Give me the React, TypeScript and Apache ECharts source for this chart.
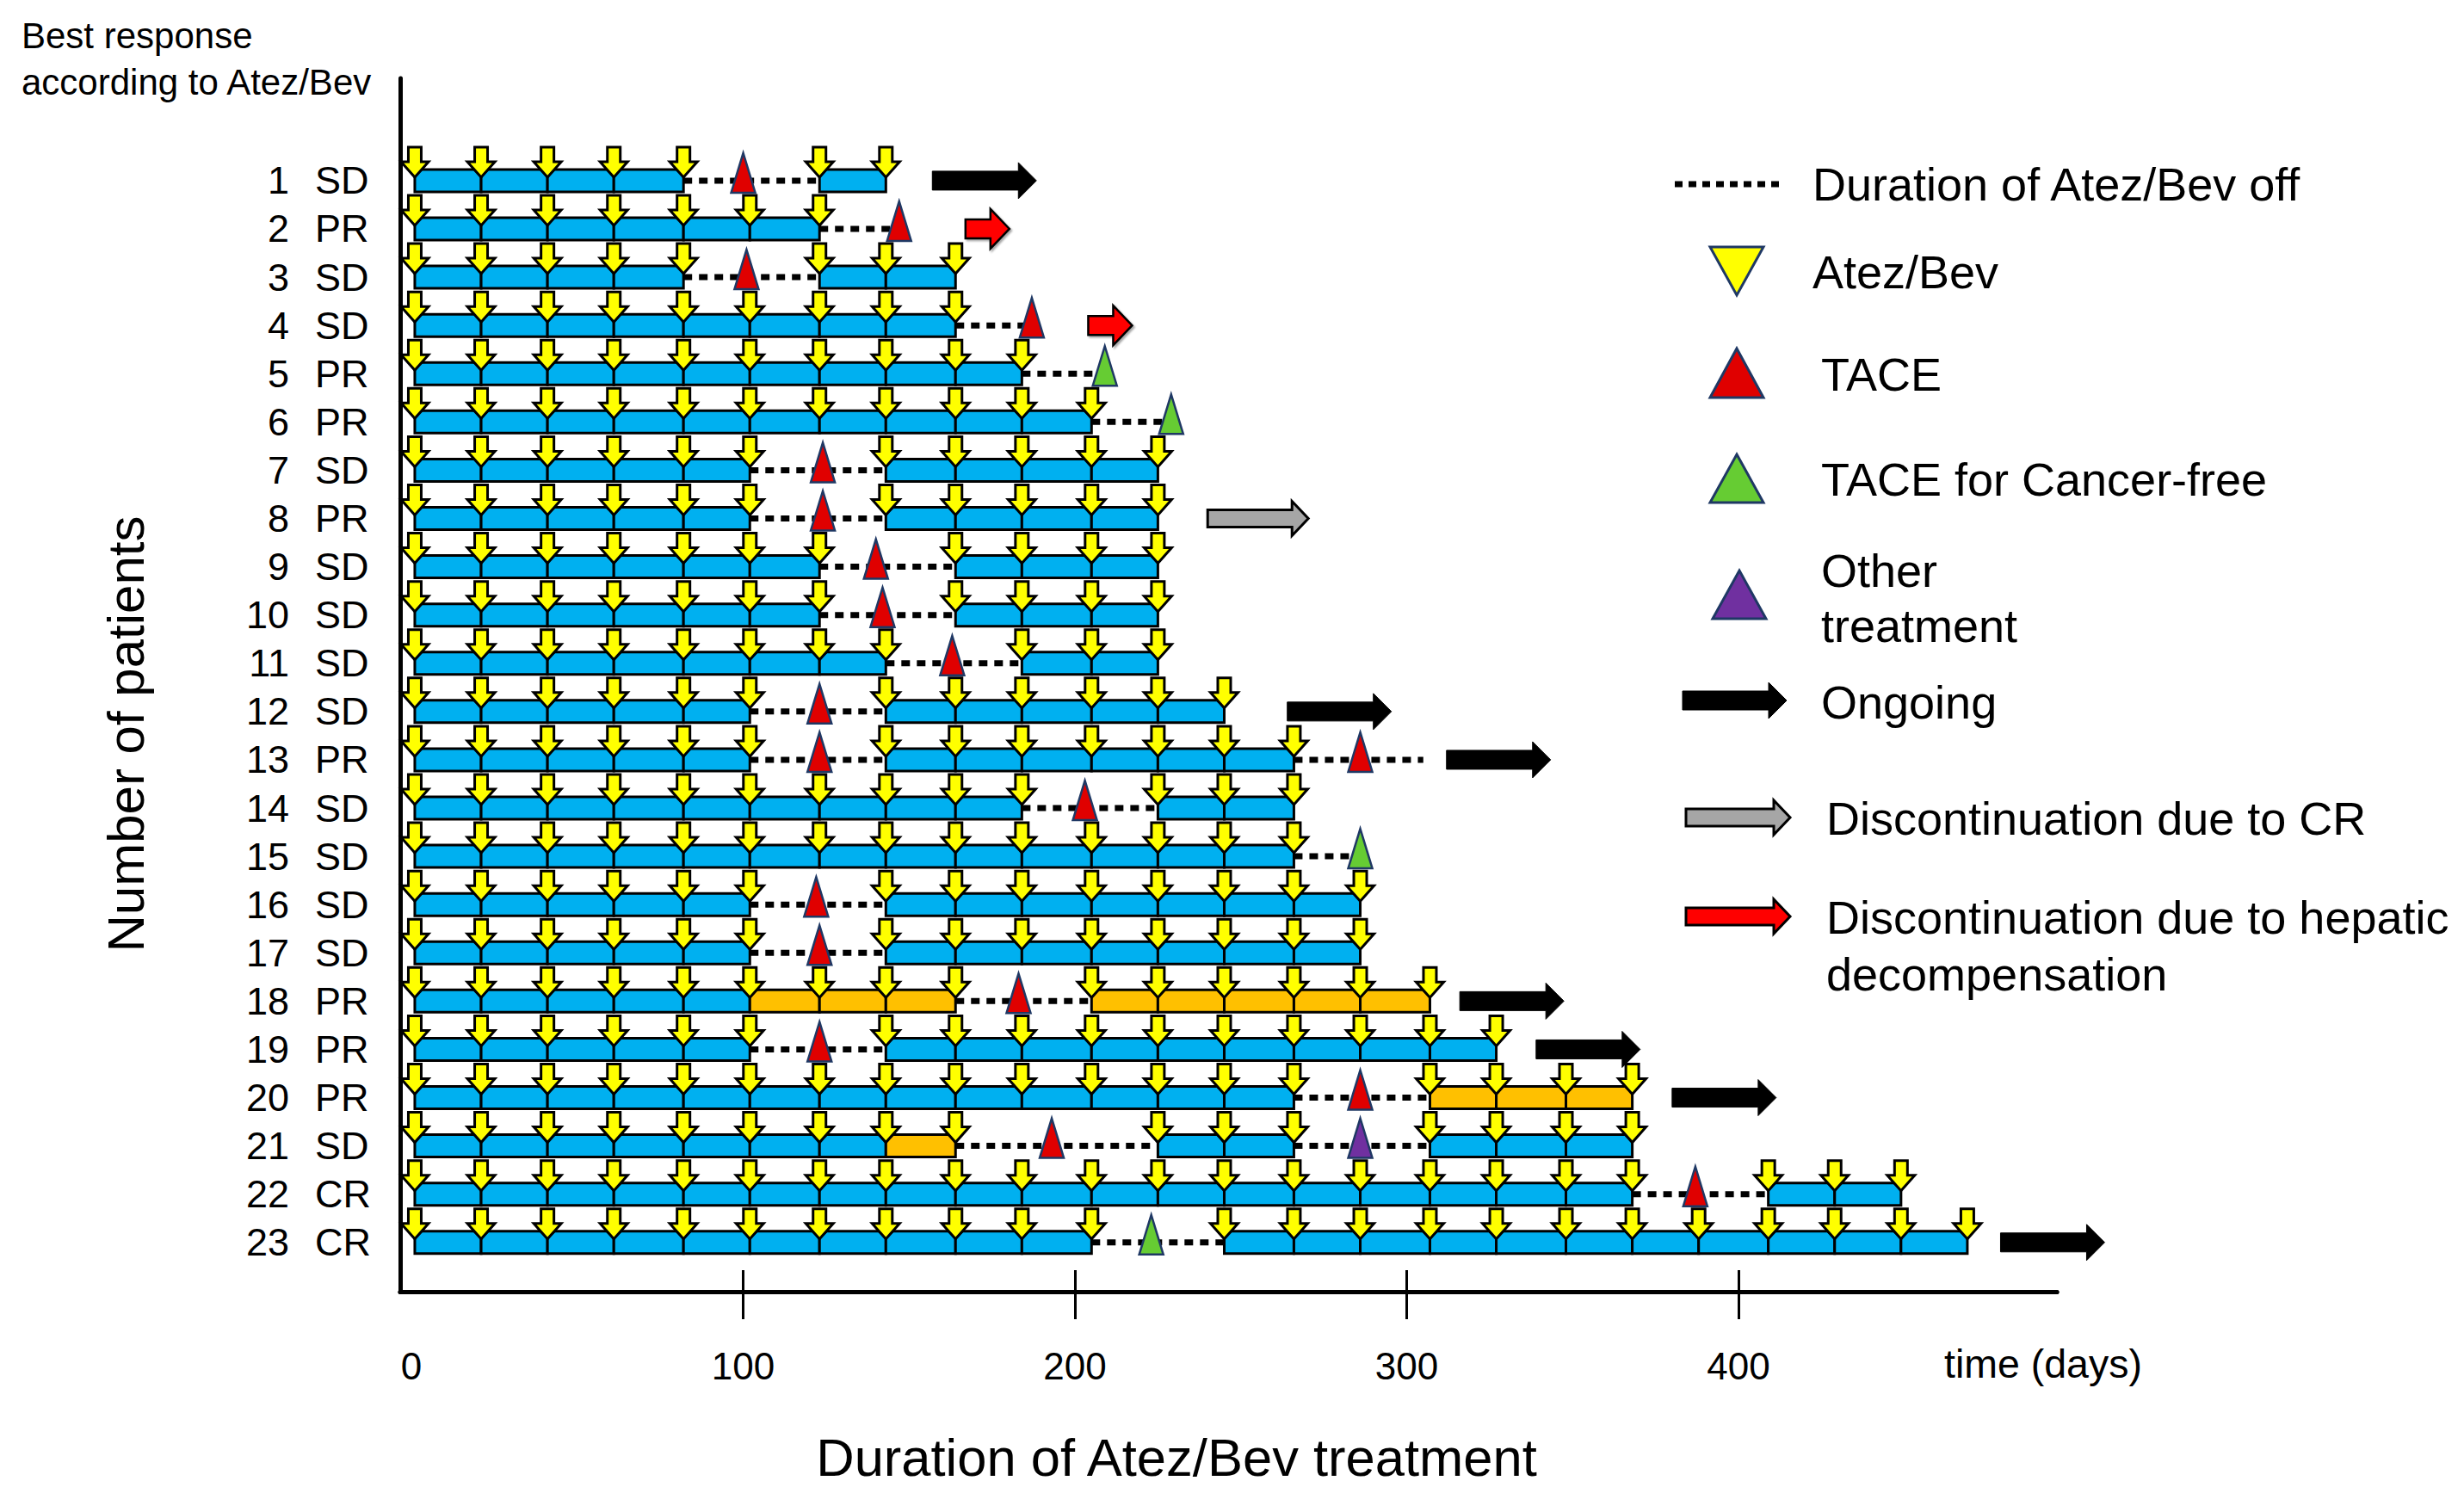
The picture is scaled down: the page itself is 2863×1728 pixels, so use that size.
import React, { useEffect, useRef } from "react";
import * as echarts from "echarts";

// ---------------- DATA ----------------
const patientIds = ["1","2","3","4","5","6","7","8","9","10","11","12","13","14","15","16","17","18","19","20","21","22","23"];
const responses = ["SD","PR","SD","SD","PR","PR","SD","PR","SD","SD","SD","SD","PR","SD","SD","SD","SD","PR","PR","PR","SD","CR","CR"];

// Atez/Bev administration days (yellow arrows)
const doseDays: number[][] = [
  [1,21,41,61,82,123,143],
  [1,21,41,61,82,102,123],
  [1,21,41,61,82,123,143,164],
  [1,21,41,61,82,102,123,143,164],
  [1,21,41,61,82,102,123,143,164,184],
  [1,21,41,61,82,102,123,143,164,184,205],
  [1,21,41,61,82,102,143,164,184,205,225],
  [1,21,41,61,82,102,143,164,184,205,225],
  [1,21,41,61,82,102,123,164,184,205,225],
  [1,21,41,61,82,102,123,164,184,205,225],
  [1,21,41,61,82,102,123,143,184,205,225],
  [1,21,41,61,82,102,143,164,184,205,225,245],
  [1,21,41,61,82,102,143,164,184,205,225,245,266],
  [1,21,41,61,82,102,123,143,164,184,225,245,266],
  [1,21,41,61,82,102,123,143,164,184,205,225,245,266],
  [1,21,41,61,82,102,143,164,184,205,225,245,266,286],
  [1,21,41,61,82,102,143,164,184,205,225,245,266,286],
  [1,21,41,61,82,102,123,143,164,205,225,245,266,286,307],
  [1,21,41,61,82,102,143,164,184,205,225,245,266,286,307,327],
  [1,21,41,61,82,102,123,143,164,184,205,225,245,266,307,327,348,368],
  [1,21,41,61,82,102,123,143,164,225,245,266,307,327,348,368],
  [1,21,41,61,82,102,123,143,164,184,205,225,245,266,286,307,327,348,368,409,429,449],
  [1,21,41,61,82,102,123,143,164,184,205,245,266,286,307,327,348,368,388,409,429,449,469],
];

// on-treatment blocks: [start, end, colour key] (B = blue, O = orange)
const onBlocks: [number, number, string][][] = [
  [[1,82,"B"],[123,143,"B"]],
  [[1,123,"B"]],
  [[1,82,"B"],[123,164,"B"]],
  [[1,164,"B"]],
  [[1,184,"B"]],
  [[1,205,"B"]],
  [[1,102,"B"],[143,225,"B"]],
  [[1,102,"B"],[143,225,"B"]],
  [[1,123,"B"],[164,225,"B"]],
  [[1,123,"B"],[164,225,"B"]],
  [[1,143,"B"],[184,225,"B"]],
  [[1,102,"B"],[143,245,"B"]],
  [[1,102,"B"],[143,266,"B"]],
  [[1,184,"B"],[225,266,"B"]],
  [[1,266,"B"]],
  [[1,102,"B"],[143,286,"B"]],
  [[1,102,"B"],[143,286,"B"]],
  [[1,102,"B"],[102,164,"O"],[205,307,"O"]],
  [[1,102,"B"],[143,327,"B"]],
  [[1,266,"B"],[307,368,"O"]],
  [[1,143,"B"],[143,164,"O"],[225,266,"B"],[307,368,"B"]],
  [[1,368,"B"],[409,449,"B"]],
  [[1,205,"B"],[245,469,"B"]],
];

// Atez/Bev off periods (dotted)
const offPeriods: [number, number][][] = [
  [[82,123]],
  [[123,147]],
  [[82,123]],
  [[164,187]],
  [[184,209]],
  [[205,229]],
  [[102,143]],
  [[102,143]],
  [[123,164]],
  [[123,164]],
  [[143,184]],
  [[102,143]],
  [[102,143],[266,305]],
  [[184,225]],
  [[266,286]],
  [[102,143]],
  [[102,143]],
  [[164,205]],
  [[102,143]],
  [[266,307]],
  [[164,225],[266,307]],
  [[368,409]],
  [[205,245]],
];

// events: TACE, CF (TACE for cancer-free), OTHER
const eventMarks: [number, string][][] = [
  [[100,"TACE"]],
  [[147,"TACE"]],
  [[101,"TACE"]],
  [[187,"TACE"]],
  [[209,"CF"]],
  [[229,"CF"]],
  [[124,"TACE"]],
  [[124,"TACE"]],
  [[140,"TACE"]],
  [[142,"TACE"]],
  [[163,"TACE"]],
  [[123,"TACE"]],
  [[123,"TACE"],[286,"TACE"]],
  [[203,"TACE"]],
  [[286,"CF"]],
  [[122,"TACE"]],
  [[123,"TACE"]],
  [[183,"TACE"]],
  [[123,"TACE"]],
  [[286,"TACE"]],
  [[193,"TACE"],[286,"OTHER"]],
  [[387,"TACE"]],
  [[223,"CF"]],
];

// end arrows: [start day, kind]
const endArrows: ([number, string] | null)[] = [
  [157,"ongoing"], [167,"hepatic"], null, [204,"hepatic"], null, null, null, [240,"cr"],
  null, null, null, [264,"ongoing"], [312,"ongoing"], null, null, null, null,
  [316,"ongoing"], [339,"ongoing"], [380,"ongoing"], null, null, [479,"ongoing"],
];

const xTickValues = [100, 200, 300, 400];
const xLabelValues = [0, 100, 200, 300, 400];

// ---------------- STYLE ----------------
const FONT = '"Liberation Sans", Arial, Helvetica, sans-serif';
const BAR_FILL: Record<string, string> = { B: "#00B0F0", O: "#FFC000" };
const EVENT_FILL: Record<string, string> = { TACE: "#E00000", CF: "#66CC33", OTHER: "#7030A0" };
const NAVY = "#1F3864";

function arrowPoints(x0: number, cy: number, len: number, headLen: number, bodyH: number, headH: number) {
  const xh = x0 + len - headLen;
  return [
    [x0, cy - bodyH / 2], [xh, cy - bodyH / 2], [xh, cy - headH / 2], [x0 + len, cy],
    [xh, cy + headH / 2], [xh, cy + bodyH / 2], [x0, cy + bodyH / 2],
  ];
}

function endArrowShape(kind: string, x0: number, cy: number) {
  if (kind === "ongoing") {
    return { type: "polygon", shape: { points: arrowPoints(x0, cy, 121, 21, 22, 42) }, style: { fill: "#000", stroke: "#000", lineWidth: 1 } };
  }
  if (kind === "cr") {
    return { type: "polygon", shape: { points: arrowPoints(x0, cy, 117, 19, 20, 40) }, style: { fill: "#A6A6A6", stroke: "#000", lineWidth: 3 } };
  }
  return { type: "polygon", shape: { points: arrowPoints(x0, cy, 51, 22, 22, 46) }, style: { fill: "#FF0000", stroke: "#000", lineWidth: 2.5, shadowColor: "rgba(0,0,0,0.35)", shadowOffsetX: 2, shadowOffsetY: 2, shadowBlur: 2 } };
}

function txt(text: string, x: number, y: number, size: number, align = "left", extra: any = {}) {
  return {
    type: "text", x, y, ...extra,
    style: { text, fill: "#000", fontSize: size, fontFamily: FONT, align, textAlign: align, verticalAlign: "middle", textVerticalAlign: "middle" },
  };
}

function renderItem(params: any, api: any) {
  const i = params.dataIndex;
  const row = api.value(1);
  const cy = api.coord([0, row])[1];
  const X = (d: number) => api.coord([d, row])[0];
  const children: any[] = [];

  for (const [a, b] of offPeriods[i]) {
    children.push({ type: "line", shape: { x1: X(a), y1: cy, x2: X(b), y2: cy }, style: { stroke: "#000", lineWidth: 7, lineDash: [10, 8], lineCap: "butt" } });
  }
  for (const [s, e, col] of onBlocks[i]) {
    const ds = doseDays[i].filter((d) => d >= s && d <= e);
    for (let k = 0; k < ds.length - 1; k++) {
      const x0 = X(ds[k]);
      const x1 = X(ds[k + 1]);
      children.push({
        type: "polygon",
        shape: { points: [[x0, cy + 13], [x0, cy - 6], [x0 + 8, cy - 13], [x1 - 8, cy - 13], [x1, cy - 6], [x1, cy + 13]] },
        style: { fill: BAR_FILL[col], stroke: "#000", lineWidth: 3, lineJoin: "miter" },
      });
    }
  }
  for (const d of doseDays[i]) {
    const x = X(d);
    children.push({
      type: "polygon",
      shape: { points: [[x - 7.5, cy - 39], [x + 7.5, cy - 39], [x + 7.5, cy - 22], [x + 16, cy - 22], [x, cy - 4], [x - 16, cy - 22], [x - 7.5, cy - 22]] },
      style: { fill: "#FFFF00", stroke: "#000", lineWidth: 3, lineJoin: "miter" },
    });
  }
  for (const [d, t] of eventMarks[i]) {
    const x = X(d);
    children.push({
      type: "polygon",
      shape: { points: [[x, cy - 32], [x + 14, cy + 14], [x - 14, cy + 14]] },
      style: { fill: EVENT_FILL[t], stroke: NAVY, lineWidth: 2.5 },
    });
  }
  const ea = endArrows[i];
  if (ea) children.push(endArrowShape(ea[1], X(ea[0]), cy));

  children.push(txt(patientIds[i], 336, cy, 45, "right"));
  children.push(txt(responses[i], 366, cy, 45, "left"));
  return { type: "group", children };
}

function legendGraphics() {
  const g: any[] = [];
  const LF = 54;
  g.push({ type: "line", shape: { x1: 1946, y1: 214, x2: 2072, y2: 214 }, style: { stroke: "#000", lineWidth: 7, lineDash: [9, 7] } });
  g.push(txt("Duration of Atez/Bev off", 2106, 214, LF));
  g.push({ type: "polygon", shape: { points: [[1987, 287], [2049, 287], [2018, 343]] }, style: { fill: "#FFFF00", stroke: NAVY, lineWidth: 3 } });
  g.push(txt("Atez/Bev", 2106, 316, LF));
  g.push({ type: "polygon", shape: { points: [[2018, 405], [2049, 462], [1987, 462]] }, style: { fill: EVENT_FILL.TACE, stroke: NAVY, lineWidth: 3 } });
  g.push(txt("TACE", 2116, 435, LF));
  g.push({ type: "polygon", shape: { points: [[2018, 528], [2049, 584], [1987, 584]] }, style: { fill: EVENT_FILL.CF, stroke: NAVY, lineWidth: 3 } });
  g.push(txt("TACE for Cancer-free", 2116, 557, LF));
  g.push({ type: "polygon", shape: { points: [[2021, 663], [2052, 719], [1990, 719]] }, style: { fill: EVENT_FILL.OTHER, stroke: NAVY, lineWidth: 3 } });
  g.push(txt("Other", 2116, 663, LF));
  g.push(txt("treatment", 2116, 727, LF));
  g.push({ type: "polygon", shape: { points: arrowPoints(1955, 814, 121, 21, 22, 42) }, style: { fill: "#000", stroke: "#000", lineWidth: 1 } });
  g.push(txt("Ongoing", 2116, 816, LF));
  g.push({ type: "polygon", shape: { points: arrowPoints(1959, 950, 121, 19, 20, 40) }, style: { fill: "#A6A6A6", stroke: "#000", lineWidth: 3 } });
  g.push(txt("Discontinuation due to CR", 2122, 951, LF));
  g.push({ type: "polygon", shape: { points: arrowPoints(1959, 1065, 121, 19, 20, 40) }, style: { fill: "#FF0000", stroke: "#000", lineWidth: 3 } });
  g.push(txt("Discontinuation due to hepatic", 2122, 1066, LF));
  g.push(txt("decompensation", 2122, 1132, LF));

  g.push(txt("Best response", 25, 41, 42));
  g.push(txt("according to Atez/Bev", 25, 95, 42));
  g.push(txt("Number of patients", 146, 853, 60, "center", { rotation: Math.PI / 2 }));
  g.push(txt("Duration of Atez/Bev treatment", 1367, 1693, 61.5, "center"));
  g.push(txt("time (days)", 2259, 1585, 46.5));
  return g;
}

export default function App() {
  const ref = useRef<HTMLDivElement>(null);
  useEffect(() => {
    if (!ref.current) return;
    const chart = echarts.init(ref.current, null, { renderer: "svg" });
    const option: any = {
      animation: false,
      backgroundColor: "#ffffff",
      grid: { left: 465, right: 473, top: 91, bottom: 227, containLabel: false },
      xAxis: [
        {
          type: "value", min: -3.4, max: 496, position: "bottom",
          axisLine: { show: true, onZero: false, lineStyle: { color: "#000", width: 5 } },
          axisTick: { show: true, inside: true, length: 25, customValues: xTickValues, lineStyle: { color: "#000", width: 3 } },
          axisLabel: { show: true, customValues: xLabelValues, margin: 64, fontSize: 44, color: "#000", fontFamily: FONT },
          splitLine: { show: false },
        },
        {
          type: "value", min: -3.4, max: 496, position: "bottom",
          axisLine: { show: true, onZero: false, lineStyle: { color: "#000", width: 5 } },
          axisTick: { show: true, inside: false, length: 32, customValues: xTickValues, lineStyle: { color: "#000", width: 3 } },
          axisLabel: { show: false },
          splitLine: { show: false },
        },
      ],
      yAxis: {
        type: "value", inverse: true, min: -1.12, max: 24.02,
        axisLine: { show: true, onZero: false, lineStyle: { color: "#000", width: 5 } },
        axisTick: { show: false }, axisLabel: { show: false }, splitLine: { show: false },
      },
      series: [
        {
          type: "custom",
          renderItem,
          clip: false,
          silent: true,
          data: patientIds.map((_, i) => [0, i + 1]),
        },
      ],
      graphic: legendGraphics(),
    };
    chart.setOption(option);
    return () => chart.dispose();
  }, []);
  return <div ref={ref} style={{ position: "fixed", left: 0, top: 0, width: 2863, height: 1728, background: "#fff" }} />;
}
